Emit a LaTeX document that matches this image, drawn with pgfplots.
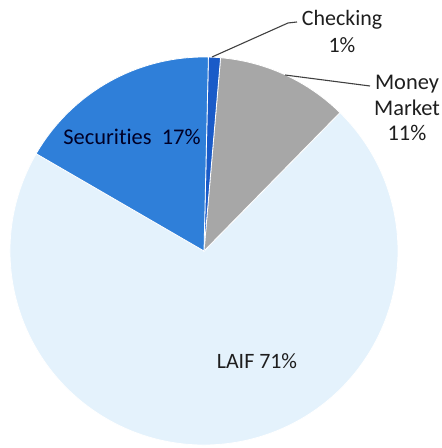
\documentclass[border=0pt]{standalone}
\usepackage{pgfplots}
\usepackage{pgfplotstable}
\pgfplotsset{compat=1.18}
\usepackage{fontspec}
\setmainfont{Carlito}[Ligatures=NoCommon]
\definecolor{mmgray}{HTML}{A7A7A7}
\definecolor{chkblue}{HTML}{1A5BC8}
\definecolor{secblue}{HTML}{2F7FD9}
\definecolor{laifblue}{HTML}{E4F2FC}
\definecolor{txt}{HTML}{1E1E1E}
\pgfplotstableread{
slice value
MoneyMarket 11
Checking 1
Securities 17
LAIF 71
}\piedata
\begin{document}
\begin{tikzpicture}
\pgfplotstablegetelem{0}{value}\of\piedata \let\vMM\pgfplotsretval
\pgfplotstablegetelem{1}{value}\of\piedata \let\vCH\pgfplotsretval
\pgfplotstablegetelem{2}{value}\of\piedata \let\vSE\pgfplotsretval
\pgfplotstablegetelem{3}{value}\of\piedata \let\vLA\pgfplotsretval
\pgfmathsetmacro\aA{45.5}
\pgfmathsetmacro\aB{\aA+3.6*\vMM}
\pgfmathsetmacro\aC{\aB+3.6*\vCH}
\pgfmathsetmacro\aD{\aC+3.6*\vSE}
\pgfmathsetmacro\aE{\aD+3.6*\vLA}
\def\R{194bp}
\begin{axis}[hide axis, scale only axis, width=442bp, height=448bp,
  xmin=0, xmax=442, ymin=0, ymax=448, clip=false]
\path (axis cs:0,0) rectangle (axis cs:442,448);
\filldraw[overlay, fill=laifblue, draw=white, line width=0.8bp] (axis cs:204,197) -- ++(\aD:\R) arc[start angle=\aD, end angle=\aE, radius=\R] -- cycle;
\filldraw[overlay, fill=mmgray, draw=white, line width=0.8bp] (axis cs:204,197) -- ++(\aA:\R) arc[start angle=\aA, end angle=\aB, radius=\R] -- cycle;
\filldraw[overlay, fill=chkblue, draw=white, line width=0.8bp] (axis cs:204,197) -- ++(\aB:\R) arc[start angle=\aB, end angle=\aC, radius=\R] -- cycle;
\filldraw[overlay, fill=secblue, draw=white, line width=0.8bp] (axis cs:204,197) -- ++(\aC:\R) arc[start angle=\aC, end angle=\aD, radius=\R] -- cycle;
% leader lines
\draw[overlay, line width=1.1bp, color=black!75] (axis cs:212,391) -- (axis cs:288,425) -- (axis cs:297,426);
\draw[overlay, line width=1.1bp, color=black!75] (axis cs:285,373) -- (axis cs:370,362);
% labels
\node[overlay, align=center, text=txt, font=\fontsize{22}{27}\selectfont] at (axis cs:342,416.5) {Checking\\1\%};
\node[overlay, align=center, text=txt, font=\fontsize{22.5}{25.5}\selectfont] at (axis cs:407,340) {Money\\Market\\11\%};
\node[overlay, text=black!85!blue, font=\fontsize{22.5}{26}\selectfont] at (axis cs:132,311) {Securities\ \ 17\%};
\node[overlay, text=txt, font=\fontsize{22}{26}\selectfont] at (axis cs:257,87) {LAIF 71\%};
\end{axis}
\end{tikzpicture}
\end{document}
